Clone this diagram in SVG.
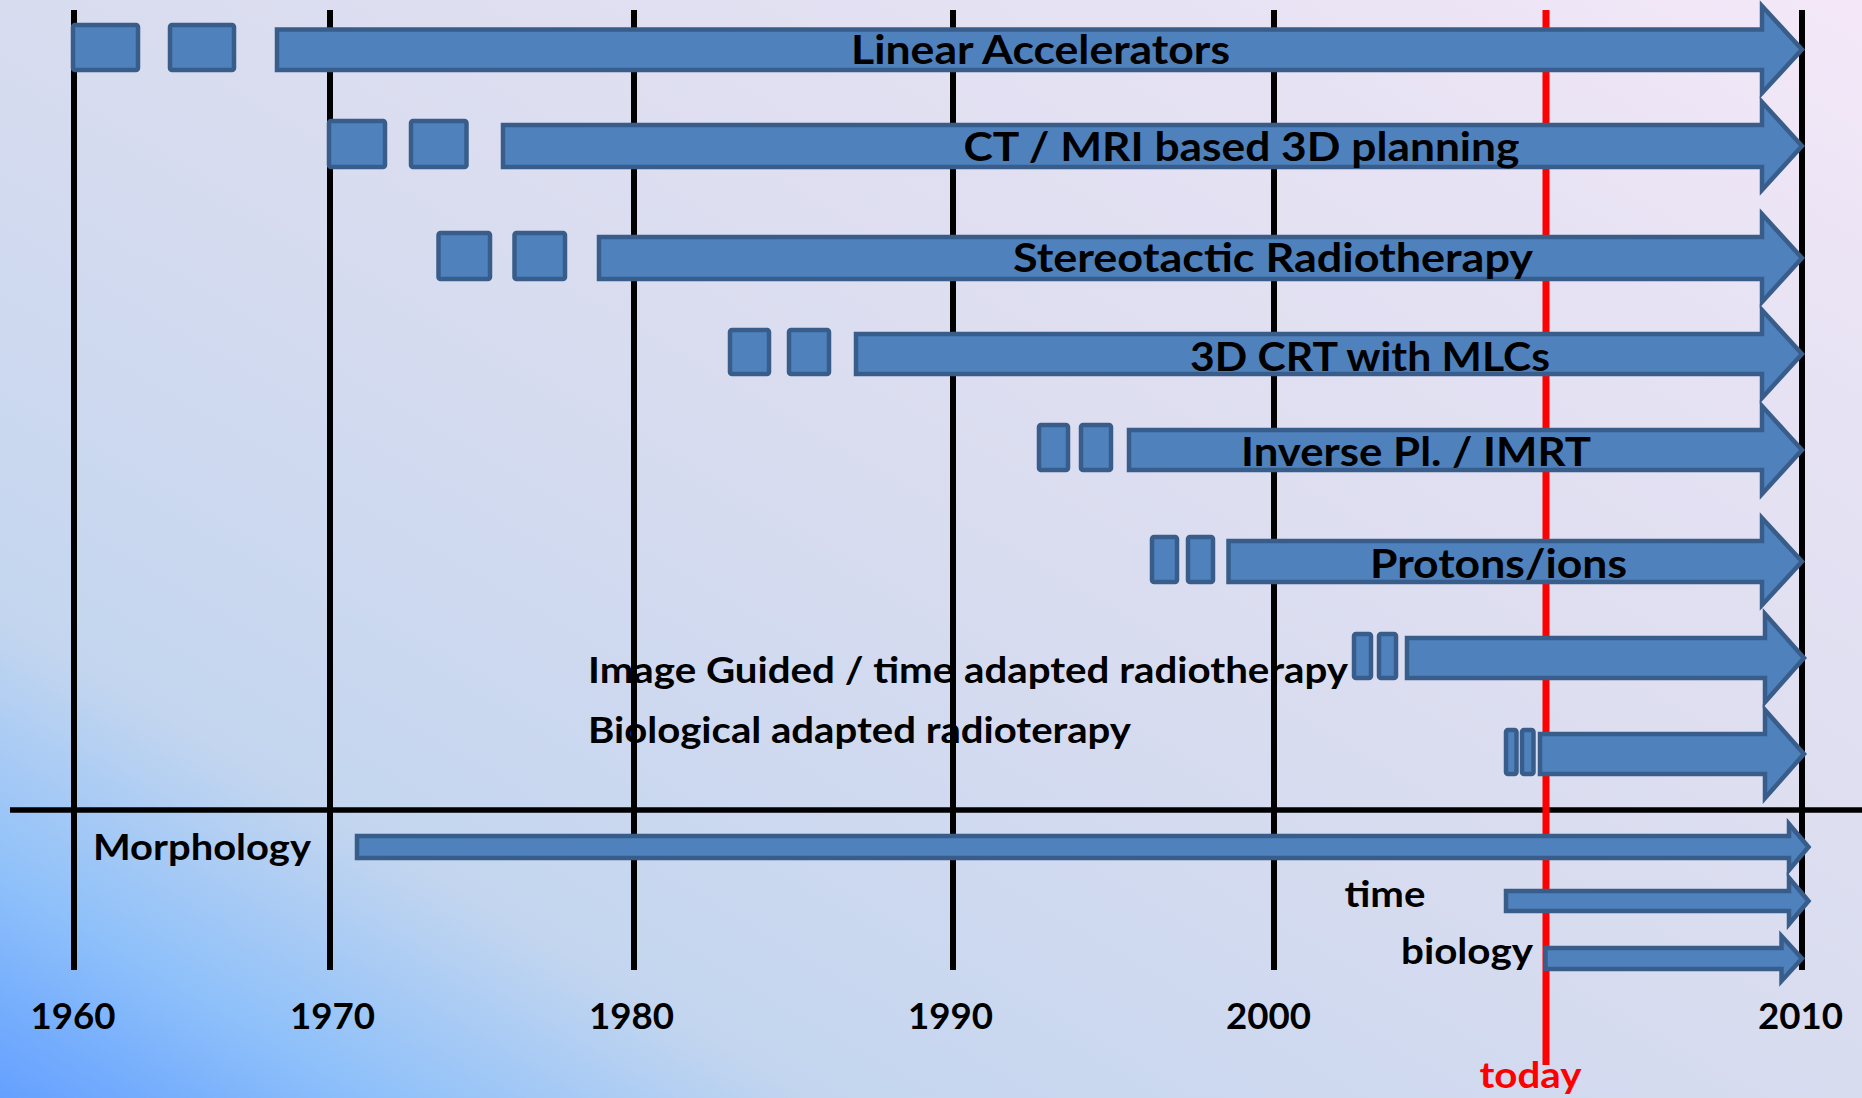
<svg xmlns="http://www.w3.org/2000/svg" width="1862" height="1098" viewBox="0 0 1862 1098">
<defs>
<linearGradient id="bg" x1="0" y1="1" x2="1" y2="0">
<stop offset="0" stop-color="#64a0ff"/>
<stop offset="0.1" stop-color="#8ec0fa"/>
<stop offset="0.22" stop-color="#c4d6ef"/>
<stop offset="0.5" stop-color="#d8dcef"/>
<stop offset="0.8" stop-color="#e6e2f3"/>
<stop offset="1" stop-color="#f4e8f8"/>
</linearGradient>
<style>
.ar{fill:#4f81bd;stroke:#385d8a;stroke-width:4.5;stroke-linejoin:miter;stroke-miterlimit:10}
.bx{fill:#4f81bd;stroke:#385d8a;stroke-width:4.5}
.vl{stroke:#000;stroke-width:6}
.t{font-family:Lato,"Liberation Sans",sans-serif;font-weight:bold;fill:#000}
.big{font-size:40px}
.sm{font-size:36px}
</style>
</defs>
<rect x="0" y="0" width="1862" height="1098" fill="url(#bg)"/>
<g id="grid">
<line class="vl" x1="74" y1="10" x2="74" y2="970"/>
<line class="vl" x1="330" y1="10" x2="330" y2="970"/>
<line class="vl" x1="634" y1="10" x2="634" y2="970"/>
<line class="vl" x1="953" y1="10" x2="953" y2="970"/>
<line class="vl" x1="1274" y1="10" x2="1274" y2="970"/>
<line class="vl" x1="1802" y1="10" x2="1802" y2="970"/>
<line x1="10" y1="810" x2="1862" y2="810" stroke="#000" stroke-width="5.5"/>
<line id="today-line" x1="1546" y1="10" x2="1546" y2="1065" stroke="#ff0000" stroke-width="7"/>
</g>
<g id="connectors">
<g id="linac">
<rect class="bx" x="73" y="25" width="65" height="45" rx="2"/>
<rect class="bx" x="170" y="25" width="64" height="45" rx="2"/>
<polygon class="ar" points="277,29.5 1762,29.5 1762,6 1802,49.5 1762,93 1762,70 277,70"/>
<text class="t big" x="851" y="63.5" textLength="379" lengthAdjust="spacingAndGlyphs">Linear Accelerators</text>
</g>
<g id="ct">
<rect class="bx" x="329" y="121" width="56" height="46" rx="2"/>
<rect class="bx" x="411" y="121" width="55.5" height="46" rx="2"/>
<polygon class="ar" points="503,125 1762,125 1762,102 1802,146 1762,190 1762,167 503,167"/>
<text class="t big" x="963.5" y="160.5" textLength="556" lengthAdjust="spacingAndGlyphs">CT / MRI based 3D planning</text>
</g>
<g id="stereo">
<rect class="bx" x="438.5" y="233" width="51.5" height="46" rx="2"/>
<rect class="bx" x="514.5" y="233" width="50.5" height="46" rx="2"/>
<polygon class="ar" points="599,237 1762,237 1762,214 1802,258 1762,302 1762,279 599,279"/>
<text class="t big" x="1013" y="272" textLength="520" lengthAdjust="spacingAndGlyphs">Stereotactic Radiotherapy</text>
</g>
<g id="crt">
<rect class="bx" x="730" y="330" width="39" height="44" rx="2"/>
<rect class="bx" x="789" y="330" width="40" height="44" rx="2"/>
<polygon class="ar" points="856,334 1762,334 1762,310 1802,354 1762,398 1762,374 856,374"/>
<text class="t big" x="1190" y="370.5" textLength="360" lengthAdjust="spacingAndGlyphs">3D CRT with MLCs</text>
</g>
<g id="imrt">
<rect class="bx" x="1039" y="425" width="29" height="45" rx="2"/>
<rect class="bx" x="1081" y="425" width="30" height="45" rx="2"/>
<polygon class="ar" points="1129,430 1762,430 1762,406 1802,450 1762,494 1762,470 1129,470"/>
<text class="t big" x="1241" y="466" textLength="350" lengthAdjust="spacingAndGlyphs">Inverse Pl. / IMRT</text>
</g>
<g id="protons">
<rect class="bx" x="1152" y="537" width="25" height="45" rx="2"/>
<rect class="bx" x="1188" y="537" width="25" height="45" rx="2"/>
<polygon class="ar" points="1228.5,541 1762,541 1762,518 1802,561.5 1762,605 1762,582 1228.5,582"/>
<text class="t big" x="1370" y="578" textLength="257" lengthAdjust="spacingAndGlyphs">Protons/ions</text>
</g>
<g id="igrt">
<rect class="bx" x="1354" y="634" width="17" height="44" rx="2"/>
<rect class="bx" x="1379" y="634" width="17" height="44" rx="2"/>
<polygon class="ar" points="1407,638 1765,638 1765,614 1804,658 1765,702 1765,678 1407,678"/>
</g>
<g id="bio">
<rect class="bx" x="1506" y="730" width="10.5" height="44" rx="2"/>
<rect class="bx" x="1522" y="730" width="11.5" height="44" rx="2"/>
<polygon class="ar" points="1540,734 1765,734 1765,710 1804,754 1765,798 1765,774 1540,774"/>
</g>
<g id="morph-arrow">
<polygon class="ar" points="357,836 1789,836 1789,824 1808.5,847 1789,870 1789,858 357,858"/>
</g>
<g id="time-arrow">
<polygon class="ar" points="1506,891 1789,891 1789,878 1808.5,901 1789,924 1789,911 1506,911"/>
</g>
<g id="biology-arrow">
<polygon class="ar" points="1545.5,948 1781.5,948 1781.5,936 1802,958.5 1781.5,981 1781.5,969 1545.5,969"/>
</g>
</g>
<g id="labels">
<text class="t sm" x="588" y="683" textLength="760" lengthAdjust="spacingAndGlyphs">Image Guided / time adapted radiotherapy</text>
<text class="t sm" x="588" y="743" textLength="543" lengthAdjust="spacingAndGlyphs">Biological adapted radioterapy</text>
<text class="t sm" x="93" y="860" textLength="218" lengthAdjust="spacingAndGlyphs">Morphology</text>
<text class="t sm" x="1344.5" y="907" textLength="81" lengthAdjust="spacingAndGlyphs">time</text>
<text class="t sm" x="1401" y="964" textLength="132" lengthAdjust="spacingAndGlyphs">biology</text>
<text class="t sm" x="1479.5" y="1088" textLength="102" lengthAdjust="spacingAndGlyphs" style="fill:#ff0000">today</text>
</g>
<g id="years">
<text class="t sm" x="30.5" y="1029" textLength="85" lengthAdjust="spacingAndGlyphs">1960</text>
<text class="t sm" x="290" y="1029" textLength="85" lengthAdjust="spacingAndGlyphs">1970</text>
<text class="t sm" x="589" y="1029" textLength="85" lengthAdjust="spacingAndGlyphs">1980</text>
<text class="t sm" x="908" y="1029" textLength="85" lengthAdjust="spacingAndGlyphs">1990</text>
<text class="t sm" x="1226" y="1029" textLength="85" lengthAdjust="spacingAndGlyphs">2000</text>
<text class="t sm" x="1758" y="1029" textLength="85" lengthAdjust="spacingAndGlyphs">2010</text>
</g>
</svg>
